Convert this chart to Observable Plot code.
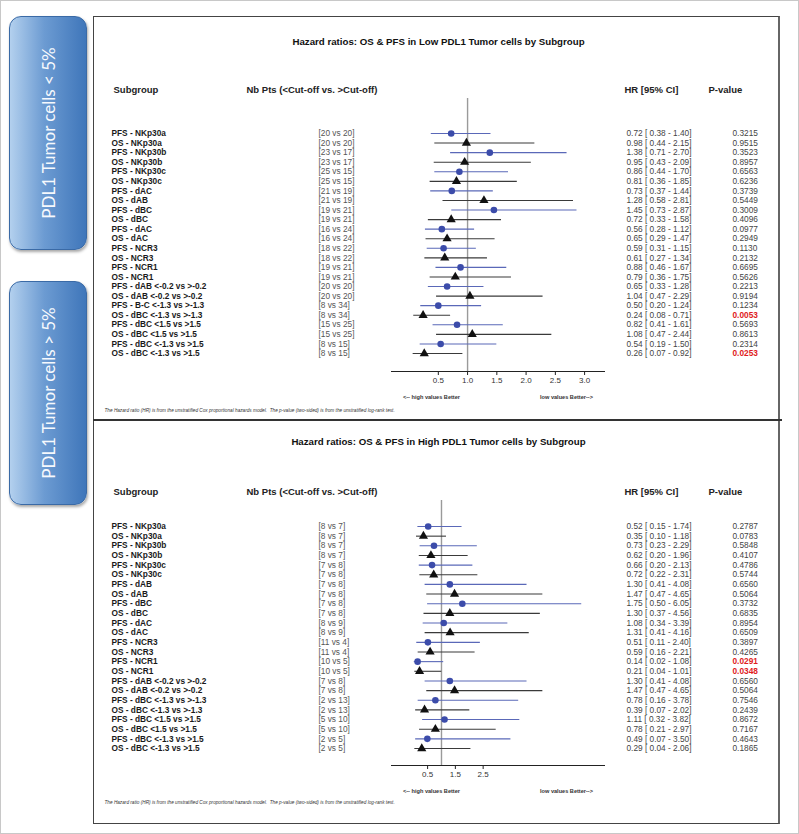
<!DOCTYPE html>
<html><head><meta charset="utf-8">
<script src="https://cdn.jsdelivr.net/npm/d3@7"></script>
<script src="https://cdn.jsdelivr.net/npm/@observablehq/plot@0.6"></script>
<style>
body{margin:0;background:#fff;}
#page{position:relative;width:797px;height:832px;border:1px solid #c8c8c8;font-family:"Liberation Sans",Arial,sans-serif;overflow:hidden;background:#fff}
.tab{position:absolute;left:8px;width:76px;border-radius:12px;background:linear-gradient(to right,#b3d0ee 0%,#6c9bd2 45%,#3f76ba 100%);border:1px solid #3a6aa6;box-shadow:1px 2px 3px rgba(0,0,0,.35);}
.tab span{position:absolute;left:50%;top:50%;transform:translate(-50%,-50%) rotate(-90deg);white-space:nowrap;color:#f6f9fd;font-family:Lato,"Open Sans",sans-serif;font-size:17px;}
#box{position:absolute;left:92px;top:15px;width:687px;height:808px;border:1px solid #444;border-right:2px solid #666;box-sizing:border-box}
#divider{position:absolute;left:92px;top:418px;width:689px;height:2px;background:#333}
.panel{position:absolute;left:92px}
</style></head><body>
<div id="page">
  <div class="tab" style="top:15px;height:232px"><span>PDL1 Tumor cells &lt; 5%</span></div>
  <div class="tab" style="top:280px;height:222px"><span>PDL1 Tumor cells &gt; 5%</span></div>
  <div id="box"></div>
  <div id="divider"></div>
  <div id="p1" class="panel" style="top:15px"></div>
  <div id="p2" class="panel" style="top:419px"></div>
</div>
<script>
// ---------- Low PDL1 (< 5%) ----------
const lowLabels = ["PFS - NKp30a","OS - NKp30a","PFS - NKp30b","OS - NKp30b","PFS - NKp30c","OS - NKp30c","PFS - dAC","OS - dAB","PFS - dBC","OS - dBC","PFS - dAC","OS - dAC","PFS - NCR3","OS - NCR3","PFS - NCR1","OS - NCR1","PFS - dAB <-0.2 vs >-0.2","OS - dAB <-0.2 vs >-0.2","PFS - B-C <-1.3 vs >-1.3","OS - dBC <-1.3 vs >-1.3","PFS - dBC <1.5 vs >1.5","OS - dBC <1.5 vs >1.5","PFS - dBC <-1.3 vs >1.5","OS - dBC <-1.3 vs >1.5"];
const lowNBelow = [20,20,23,23,25,25,21,21,19,19,16,16,18,18,19,19,20,20,8,8,15,15,8,8];
const lowNAbove = [20,20,17,17,15,15,19,19,21,21,24,24,22,22,21,21,20,20,34,34,25,25,15,15];
const lowHR = [0.72,0.98,1.38,0.95,0.86,0.81,0.73,1.28,1.45,0.72,0.56,0.65,0.59,0.61,0.88,0.79,0.65,1.04,0.50,0.24,0.82,1.08,0.54,0.26];
const lowLo = [0.38,0.44,0.71,0.43,0.44,0.36,0.37,0.58,0.73,0.33,0.28,0.29,0.31,0.27,0.46,0.36,0.33,0.47,0.20,0.08,0.41,0.47,0.19,0.07];
const lowHi = [1.40,2.15,2.70,2.09,1.70,1.85,1.44,2.81,2.87,1.58,1.12,1.47,1.15,1.34,1.67,1.75,1.28,2.29,1.24,0.71,1.61,2.44,1.50,0.92];
const lowP = [0.3215,0.9515,0.3523,0.8957,0.6563,0.6236,0.3739,0.5449,0.3009,0.4096,0.0977,0.2949,0.1130,0.2132,0.6695,0.5626,0.2213,0.9194,0.1234,0.0053,0.5693,0.8613,0.2314,0.0253];
const lowTicks = [0.5,1.0,1.5,2.0,2.5,3.0];

// ---------- High PDL1 (> 5%) ----------
const highLabels = ["PFS - NKp30a","OS - NKp30a","PFS - NKp30b","OS - NKp30b","PFS - NKp30c","OS - NKp30c","PFS - dAB","OS - dAB","PFS - dBC","OS - dBC","PFS - dAC","OS - dAC","PFS - NCR3","OS - NCR3","PFS - NCR1","OS - NCR1","PFS - dAB <-0.2 vs >-0.2","OS - dAB <-0.2 vs >-0.2","PFS - dBC <-1.3 vs >-1.3","OS - dBC <-1.3 vs >-1.3","PFS - dBC <1.5 vs >1.5","OS - dBC <1.5 vs >1.5","PFS - dBC <-1.3 vs >1.5","OS - dBC <-1.3 vs >1.5"];
const highNBelow = [8,8,8,8,7,7,7,7,7,7,8,8,11,11,10,10,7,7,2,2,5,5,2,2];
const highNAbove = [7,7,7,7,8,8,8,8,8,8,9,9,4,4,5,5,8,8,13,13,10,10,5,5];
const highHR = [0.52,0.35,0.73,0.62,0.66,0.72,1.30,1.47,1.75,1.30,1.08,1.31,0.51,0.59,0.14,0.21,1.30,1.47,0.78,0.39,1.11,0.78,0.49,0.29];
const highLo = [0.15,0.10,0.23,0.20,0.20,0.22,0.41,0.47,0.50,0.37,0.34,0.41,0.11,0.16,0.02,0.04,0.41,0.47,0.16,0.07,0.32,0.21,0.07,0.04];
const highHi = [1.74,1.18,2.29,1.96,2.13,2.31,4.08,4.65,6.05,4.56,3.39,4.16,2.40,2.21,1.08,1.01,4.08,4.65,3.78,2.02,3.82,2.97,3.50,2.06];
const highP = [0.2787,0.0783,0.5848,0.4107,0.4786,0.5744,0.6560,0.5064,0.3732,0.6835,0.8954,0.6509,0.3897,0.4265,0.0291,0.0348,0.6560,0.5064,0.7546,0.2439,0.8672,0.7167,0.4643,0.1865];
const highTicks = [0.5,1.5,2.5];

const headers = ["Subgroup","Nb Pts (<Cut-off vs. >Cut-off)","HR [95% CI]","P-value"];
const footnote = "The Hazard ratio (HR) is from the unstratified Cox proportional hazards model.  The p-value (two-sided) is from the unstratified log-rank test.";
const betterLeft = "<-- high values Better";
const betterRight = "low values Better-->";

const W = 690, ML = 298, MR = W - 511;
const f2 = d3.format(".2f");

function panel(cfg) {
  const rows = cfg.labels.map((l, i) => ({
    i, label: l, type: l.startsWith("PFS") ? "PFS" : "OS",
    nb: `[${cfg.nb1[i]} vs ${cfg.nb2[i]}]`,
    hr: cfg.hr[i], lo: cfg.lo[i], hi: cfg.hi[i],
    hrText: `${f2(cfg.hr[i])} [ ${f2(cfg.lo[i])} - ${f2(cfg.hi[i])}]`,
    p: cfg.p[i], pText: cfg.p[i].toFixed(4)
  }));
  const pfs = rows.filter(d => d.type === "PFS");
  const os = rows.filter(d => d.type === "OS");
  const MT = cfg.frameTop, MB = cfg.H - cfg.axisY;
  const at = (str, xs, ys, o) => Plot.text([str], {text: d => d, frameAnchor: "top-left", dx: xs - ML, dy: ys - MT, ...o});
  return Plot.plot({
    width: W, height: cfg.H,
    marginLeft: ML, marginRight: MR, marginTop: MT, marginBottom: MB,
    style: {background: "transparent", fontFamily: "'Liberation Sans', Arial, sans-serif", fontSize: "8px", overflow: "visible"},
    x: {domain: cfg.xDomain},
    y: {domain: [0, rows.length - 1], range: [cfg.yTop, cfg.yBot], axis: null},
    marks: [
      Plot.ruleX([1], {stroke: "#9a9a9a", strokeWidth: 1.4}),
      Plot.frame({anchor: "bottom", stroke: "#222"}),
      Plot.axisX({ticks: cfg.ticks, tickFormat: d3.format(".1f"), tickSize: 4, tickPadding: 2, fontSize: 8, fill: "#333", stroke: "#222"}),
      Plot.ruleY(pfs, {y: "i", x1: "lo", x2: "hi", stroke: "#5a68b8", strokeWidth: 1.1}),
      Plot.ruleY(os, {y: "i", x1: "lo", x2: "hi", stroke: "#3a3a3a", strokeWidth: 1.1}),
      Plot.dot(pfs, {x: "hr", y: "i", r: 3.3, fill: "#3c4caa"}),
      Plot.dot(os, {x: "hr", y: "i", r: 3.4, symbol: "triangle", fill: "#111"}),
      Plot.text(rows, {y: "i", text: "label", frameAnchor: "left", dx: 18 - ML, textAnchor: "start", fontWeight: "bold", fontSize: 8.3, fill: "#1a1a1a"}),
      Plot.text(rows, {y: "i", text: "nb", frameAnchor: "left", dx: 225 - ML, textAnchor: "start", fontSize: 8.3, fill: "#555"}),
      Plot.text(rows, {y: "i", text: "hrText", frameAnchor: "left", dx: 533 - ML, textAnchor: "start", fontSize: 8.3, fill: "#444"}),
      Plot.text(rows.filter(d => d.p >= 0.05), {y: "i", text: "pText", frameAnchor: "left", dx: 639 - ML, textAnchor: "start", fontSize: 8.3, fill: "#444"}),
      Plot.text(rows.filter(d => d.p < 0.05), {y: "i", text: "pText", frameAnchor: "left", dx: 639 - ML, textAnchor: "start", fontSize: 8.3, fontWeight: "bold", fill: "#e01b22"}),
      at(cfg.title, 345, cfg.titleY, {textAnchor: "middle", fontWeight: "bold", fontSize: 9.7, fill: "#111"}),
      at(headers[0], 20, cfg.headY, {textAnchor: "start", fontWeight: "bold", fontSize: 9.5, fill: "#222"}),
      at(headers[1], 153, cfg.headY, {textAnchor: "start", fontWeight: "bold", fontSize: 9.5, fill: "#222"}),
      at(headers[2], 531, cfg.headY, {textAnchor: "start", fontWeight: "bold", fontSize: 9.5, fill: "#222"}),
      at(headers[3], 615, cfg.headY, {textAnchor: "start", fontWeight: "bold", fontSize: 9.5, fill: "#222"}),
      at(betterLeft, 338, cfg.axisY + 24, {textAnchor: "middle", fontWeight: "bold", fontSize: 5.6, fill: "#333"}),
      at(betterRight, 473, cfg.axisY + 24, {textAnchor: "middle", fontWeight: "bold", fontSize: 5.6, fill: "#333"}),
      at(footnote, 11, cfg.axisY + cfg.footGap, {textAnchor: "start", fontStyle: "italic", fontSize: 4.7, fill: "#333"})
    ]
  });
}

document.getElementById("p1").append(panel({
  title: "Hazard ratios: OS & PFS in Low PDL1 Tumor cells by Subgroup",
  labels: lowLabels, nb1: lowNBelow, nb2: lowNAbove, hr: lowHR, lo: lowLo, hi: lowHi, p: lowP,
  ticks: lowTicks, xDomain: [-0.3, 3.34],
  H: 404, frameTop: 82, axisY: 355, yTop: 117, yBot: 337, titleY: 22, headY: 70, footGap: 37
}));
document.getElementById("p2").append(panel({
  title: "Hazard ratios: OS & PFS in High PDL1 Tumor cells by Subgroup",
  labels: highLabels, nb1: highNBelow, nb2: highNAbove, hr: highHR, lo: highLo, hi: highHi, p: highP,
  ticks: highTicks, xDomain: [-0.8, 6.87],
  H: 405, frameTop: 80, axisY: 345, yTop: 106, yBot: 328, titleY: 18, headY: 68, footGap: 35
}));
</script>
</body></html>
